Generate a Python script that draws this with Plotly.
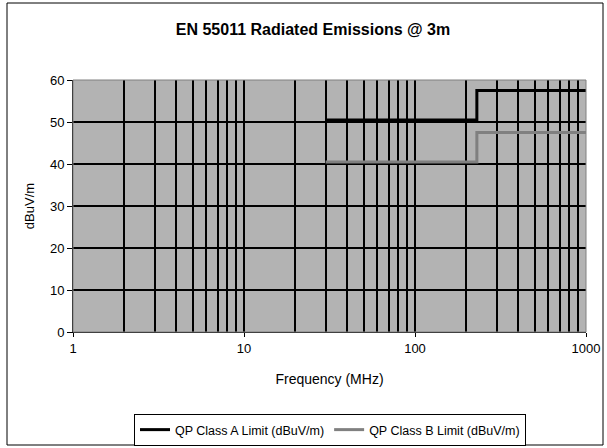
import plotly.graph_objects as go

# Data
freq_a = [30, 230, 230, 1000]
limit_a = [50.5, 50.5, 57.5, 57.5]
freq_b = [30, 230, 230, 1000]
limit_b = [40.5, 40.5, 47.5, 47.5]
x_ticks = [1, 10, 100, 1000]
x_tick_text = ["1", "10", "100", "1000"]
y_ticks = [0, 10, 20, 30, 40, 50, 60]

W, H = 607, 448
L, R, T, B = 73, 21, 80, 116
pw = W - L - R
ph = H - T - B

def px_x(p):
    return (p - L) / pw

def px_y(p):
    return (H - B - p) / ph

font = "Liberation Sans, Arial, sans-serif"

fig = go.Figure()
fig.add_trace(go.Scatter(x=freq_a, y=limit_a, mode="lines",
                         line=dict(color="#000000", width=3),
                         name="QP Class A Limit (dBuV/m)"))
fig.add_trace(go.Scatter(x=freq_b, y=limit_b, mode="lines",
                         line=dict(color="#808080", width=3),
                         name="QP Class B Limit (dBuV/m)"))

fig.update_layout(
    width=W, height=H,
    margin=dict(l=L, r=R, t=T, b=B, autoexpand=False),
    paper_bgcolor="white",
    plot_bgcolor="#b3b3b3",
    font=dict(family=font, size=12, color="black"),
    title=dict(text="<b>EN 55011 Radiated Emissions @ 3m</b>", x=313 / W, xanchor="center",
               xref="container",
               y=1 - 29 / H, yanchor="middle", yref="container",
               font=dict(size=16, family=font, color="black")),
    showlegend=True,
    legend=dict(orientation="h", xref="container", x=330 / W, xanchor="center",
                yref="container", y=1 - 414 / H, yanchor="top",
                bordercolor="black", borderwidth=1,
                font=dict(size=12.5, family=font),
                tracegroupgap=0),
    xaxis=dict(type="log", range=[0, 3], tickvals=x_ticks, ticktext=x_tick_text,
               automargin=False,
               showgrid=True, gridcolor="black", gridwidth=1.5,
               minor=dict(dtick="D1", showgrid=True, gridcolor="black", gridwidth=1.5,
                          ticks=""),
               ticks="outside", ticklen=4, tickcolor="black",
               showline=True, linecolor="black", linewidth=1, mirror=False,
               zeroline=False,
               title=dict(text="Frequency (MHz)", standoff=19, font=dict(size=14)),
               tickfont=dict(size=13)),
    yaxis=dict(range=[0, 60], tickvals=y_ticks, automargin=False,
               showgrid=True, gridcolor="black", gridwidth=1.5,
               ticks="outside", ticklen=5, tickcolor="black",
               showline=True, linecolor="black", linewidth=1,
               zeroline=False,
               title=dict(text="dBuV/m", standoff=12, font=dict(size=13)),
               tickfont=dict(size=13)),
    shapes=[
        dict(type="rect", xref="paper", yref="paper",
             x0=0, x1=1, y0=0, y1=1,
             line=dict(color="#808080", width=1), layer="above"),
        dict(type="rect", xref="paper", yref="paper",
             x0=px_x(7), x1=px_x(603), y0=px_y(445), y1=px_y(3),
             line=dict(color="black", width=1)),
    ],
)

fig.write_html("out.html", config={"displayModeBar": False},
               post_script="document.body.style.margin='0';document.body.style.overflow='hidden';")
